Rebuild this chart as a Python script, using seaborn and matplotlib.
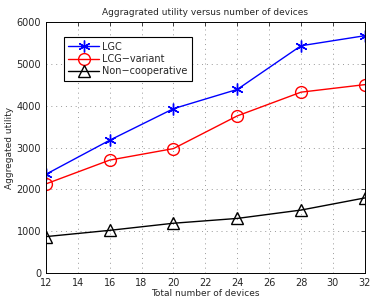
import numpy as np
import pandas as pd
import matplotlib
matplotlib.use('Agg')
import matplotlib.pyplot as plt
import seaborn as sns

# values
devices = [12, 16, 20, 24, 28, 32]
lgc = [2360, 3175, 3930, 4390, 5435, 5675]
lcg_variant = [2130, 2700, 2975, 3757, 4325, 4505]
non_coop = [870, 1020, 1190, 1305, 1505, 1795]

series_names = ['LGC', 'LCG\u2212variant', 'Non\u2212cooperative']
series_vals = [lgc, lcg_variant, non_coop]
colors = ['#0000ff', '#ff0000', '#000000']
markers = [(6, 2, 0), 'o', '^']

sns.set_style('white')
plt.rcParams['font.family'] = ['DejaVu Sans']

fig = plt.figure(figsize=(3.7, 2.99), dpi=100)
ax = fig.add_axes([0.124, 0.087, 0.862, 0.839])

for name, vals, c, m in zip(series_names, series_vals, colors, markers):
    df = pd.DataFrame({'devices': devices, 'utility': vals})
    sns.lineplot(data=df, x='devices', y='utility', ax=ax, color=c, marker=m,
                 markersize=8.5, markerfacecolor='none', markeredgecolor=c,
                 markeredgewidth=1.0, linewidth=1.0, label=name)

ax.set_xlim(12, 32)
ax.set_ylim(0, 6000)
ax.set_xticks(np.arange(12, 33, 2))
ax.set_yticks(np.arange(0, 6001, 1000))
ax.grid(True, linestyle=(0, (1, 4)), color='#999999', linewidth=0.7)
ax.tick_params(direction='in', labelsize=7, length=3, width=0.6, top=True, right=True)
for s in ax.spines.values():
    s.set_color('black')
    s.set_linewidth(0.7)

ax.set_title('Aggragrated utility versus number of devices', fontsize=6.5, pad=5)
ax.set_xlabel('Total number of devices', fontsize=6.5, labelpad=1)
ax.set_ylabel('Aggregated utility', fontsize=6.5, labelpad=2)

leg = ax.legend(loc='upper left', bbox_to_anchor=(0.056, 0.94), fontsize=7,
                frameon=True, fancybox=False, edgecolor='black', framealpha=1,
                handlelength=3.2, borderpad=0.45, labelspacing=0.25, handletextpad=0.3,
                borderaxespad=0)
leg.get_frame().set_linewidth(0.8)

fig.savefig('out.png', dpi=100)
